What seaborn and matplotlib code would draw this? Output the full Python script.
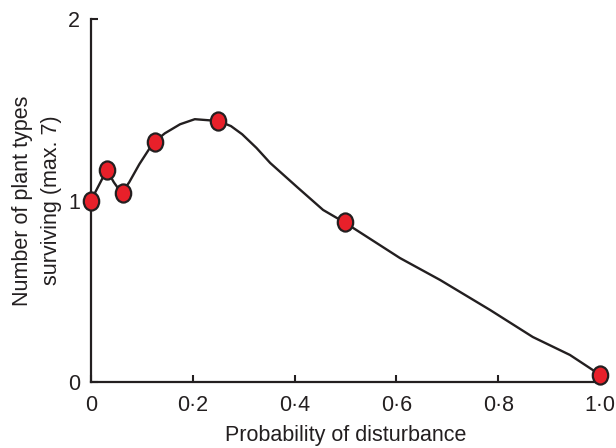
import numpy as np
import pandas as pd
import matplotlib
matplotlib.use("Agg")
import matplotlib.pyplot as plt
from matplotlib.path import Path
import seaborn as sns

# measured points (probability of disturbance, plant types surviving)
prob = [0, 1 / 32, 1 / 16, 1 / 8, 1 / 4, 1 / 2, 1.0]
surviving = [1.0, 1.17, 1.04, 1.32, 1.44, 0.88, 0.04]

# smoothed curve
curve_x = [0, 0.031, 0.045, 0.06, 0.075, 0.095, 0.122, 0.145, 0.175, 0.204,
           0.25, 0.275, 0.297, 0.325, 0.352, 0.405, 0.456, 0.5, 0.607, 0.686,
           0.784, 0.868, 0.941, 1.0]
curve_y = [1.0, 1.168, 1.10, 1.041, 1.10, 1.20, 1.317, 1.37, 1.42, 1.448,
           1.438, 1.41, 1.365, 1.29, 1.207, 1.074, 0.948, 0.876, 0.683, 0.562,
           0.397, 0.248, 0.149, 0.04]

xticks = [0, 0.2, 0.4, 0.6, 0.8, 1.0]
xticklabels = ["0", "0·2", "0·4", "0·6", "0·8", "1·0"]
yticks = [0, 1, 2]
yticklabels = ["0", "1", "2"]

pts = pd.DataFrame({"prob": prob, "surviving": surviving})
curve = pd.DataFrame({"x": curve_x, "y": curve_y})

sns.set_style("ticks")
plt.rcParams["font.family"] = ["Liberation Sans", "DejaVu Sans"]
ink = "#231f20"

fig = plt.figure(figsize=(6.16, 4.48), dpi=100)
ax = fig.add_axes([0.1477, 0.1473, 0.8263, 0.8103])

sns.lineplot(data=curve, x="x", y="y", sort=False, color=ink, linewidth=1.7,
             ax=ax, clip_on=False)

# slightly tall oval markers
circ = Path.unit_circle()
oval = Path(circ.vertices * np.array([0.85, 1.0]), circ.codes)
sns.scatterplot(data=pts, x="prob", y="surviving", marker=oval, s=170,
                color="#e8202a", edgecolor=ink, linewidth=1.6, ax=ax,
                zorder=5, clip_on=False)

ax.set_xlim(0, 1)
ax.set_ylim(0, 2)
ax.set_xticks(xticks)
ax.set_xticklabels(xticklabels)
ax.set_yticks(yticks)
ax.set_yticklabels(yticklabels)
ax.tick_params(direction="in", length=5, width=1.5, colors=ink,
               labelsize=15.5, labelcolor=ink)
ax.tick_params(axis="x", pad=9.5)
ax.tick_params(axis="y", pad=8)
for side in ["top", "right"]:
    ax.spines[side].set_visible(False)
for side in ["left", "bottom"]:
    ax.spines[side].set_linewidth(1.6)
    ax.spines[side].set_color(ink)

ax.set_xlabel("Probability of disturbance", fontsize=15.5, color=ink, labelpad=6)
ax.set_ylabel("Number of plant types\nsurviving (max. 7)", fontsize=15.5,
              color=ink, labelpad=4, linespacing=1.5)

fig.savefig("out.png", dpi=100)
